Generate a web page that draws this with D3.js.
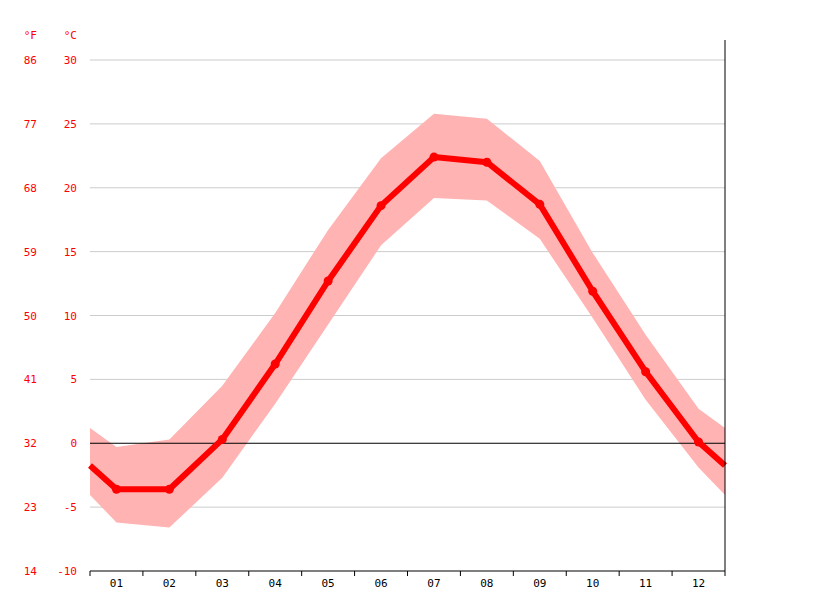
<!DOCTYPE html>
<html><head><meta charset="utf-8">
<script src="https://cdn.jsdelivr.net/npm/d3@7"></script>
<style>body{margin:0;background:#fff}text{font-family:"DejaVu Sans Mono",monospace;font-size:11px}</style>
</head><body><svg id="c" width="815" height="611"></svg>
<script>
const months=["01","02","03","04","05","06","07","08","09","10","11","12"];
const meanT=[-3.6,-3.6,0.3,6.2,12.7,18.6,22.4,22.0,18.7,11.9,5.6,0.1];
const maxT=[-0.3,0.3,4.5,10.2,16.7,22.3,25.8,25.4,22.1,14.9,8.5,2.7];
const minT=[-6.2,-6.6,-2.7,3.1,9.3,15.5,19.2,19.0,16.0,9.8,3.4,-1.9];
const cTicks=[30,25,20,15,10,5,0,-5,-10];
const fTicks=[86,77,68,59,50,41,32,23,14];

const svg=d3.select("#c");
const L=90,R=725,T=60,B=571;
const y=d3.scaleLinear().domain([-10,30]).range([B,T]);
const x=d3.scaleLinear().domain([0,12]).range([L,R]); // month i centered at i+0.5
const edge=a=>(a[0]+a[11])/2;
function pts(a){const p=[{m:0,v:edge(a)}];a.forEach((v,i)=>p.push({m:i+0.5,v}));p.push({m:12,v:edge(a)});return p;}

cTicks.forEach((t,i)=>{
  if(t!==-10 && t!==0) svg.append("line").attr("x1",L).attr("x2",R).attr("y1",y(t)).attr("y2",y(t)).attr("stroke","#ccc");
  svg.append("text").attr("x",77).attr("y",y(t)+4).attr("text-anchor","end").attr("fill","#f00").text(t);
  svg.append("text").attr("x",37).attr("y",y(t)+4).attr("text-anchor","end").attr("fill","#f00").text(fTicks[i]);
});
svg.append("text").attr("x",37).attr("y",39).attr("text-anchor","end").attr("fill","#f00").text("°F");
svg.append("text").attr("x",77).attr("y",39).attr("text-anchor","end").attr("fill","#f00").text("°C");

const band=pts(maxT).map((d,i)=>({m:d.m,hi:d.v,lo:pts(minT)[i].v}));
svg.append("path").datum(band).attr("fill","#ffb3b3")
  .attr("d",d3.area().x(d=>x(d.m)).y0(d=>y(d.lo)).y1(d=>y(d.hi)));
svg.append("line").attr("x1",L).attr("x2",R).attr("y1",y(0)).attr("y2",y(0)).attr("stroke","#000");
svg.append("path").datum(pts(meanT)).attr("fill","none").attr("stroke","#f00").attr("stroke-width",6)
  .attr("stroke-linejoin","round").attr("d",d3.line().x(d=>x(d.m)).y(d=>y(d.v)));
svg.selectAll("circle.m").data(meanT).enter().append("circle").attr("cx",(d,i)=>x(i+0.5)).attr("cy",d=>y(d)).attr("r",4.5).attr("fill","#f00");

svg.append("line").attr("x1",R).attr("x2",R).attr("y1",40).attr("y2",B).attr("stroke","#000");
svg.append("line").attr("x1",L).attr("x2",R).attr("y1",B).attr("y2",B).attr("stroke","#000");
d3.range(0,13).forEach(i=>svg.append("line").attr("x1",x(i)).attr("x2",x(i)).attr("y1",B).attr("y2",B+5).attr("stroke","#000"));
months.forEach((m,i)=>svg.append("text").attr("x",x(i+0.5)).attr("y",587).attr("text-anchor","middle").attr("fill","#000").text(m));
</script></body></html>
